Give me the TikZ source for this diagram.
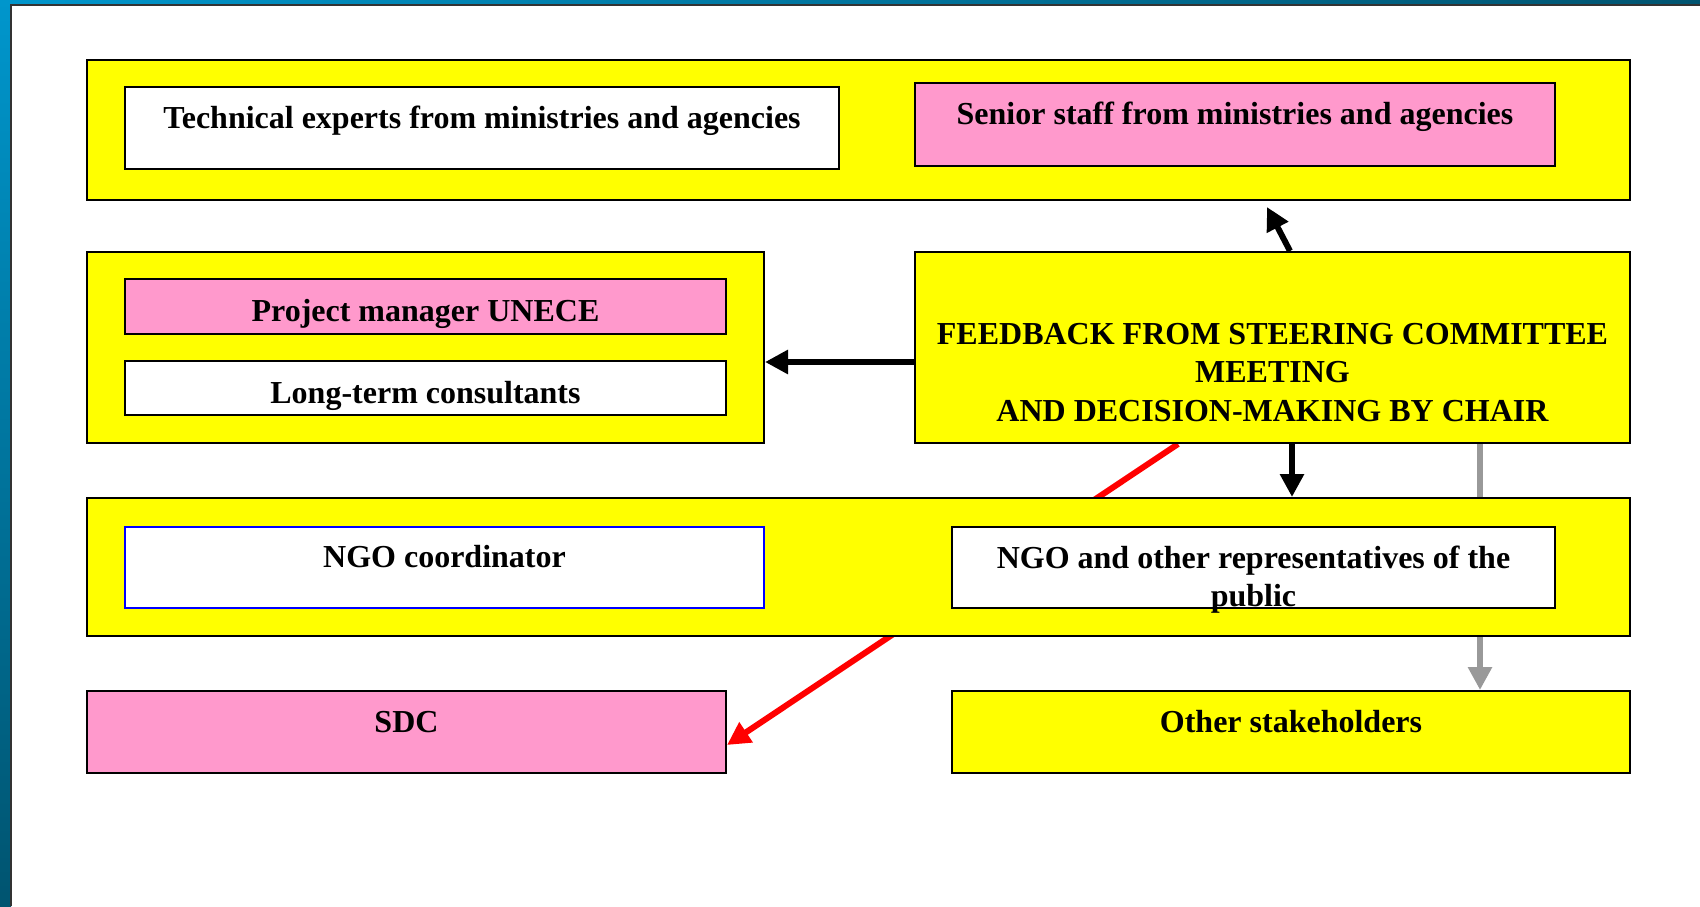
\documentclass[tikz,border=0pt]{standalone}
\usepackage{fontspec}
\setmainfont{Liberation Serif}
\usetikzlibrary{arrows.meta,backgrounds}
\definecolor{panelyellow}{RGB}{255,255,0}
\definecolor{boxpink}{RGB}{255,153,204}
\definecolor{framelight}{RGB}{0,150,204}
\definecolor{framedark}{RGB}{0,84,112}
\definecolor{greyarrow}{RGB}{153,153,153}

\begin{document}
\begin{tikzpicture}[x=1pt,y=-1pt,
        every node/.style={font=\bfseries\fontsize{32}{38.5}\selectfont, inner sep=0pt},
        panel/.style={draw, line width=2pt, fill=panelyellow},
        whitebox/.style={draw, line width=2pt, fill=white},
        pinkbox/.style={draw, line width=2pt, fill=boxpink},
        mid/.style={text height=24pt, text depth=24pt},
        low/.style={text height=38pt, text depth=8pt},
        fat/.style={line width=6pt, -{Triangle[length=23pt,width=23pt]}}]
            \useasboundingbox (0,0) rectangle (1700,906);
            \begin{scope}[on background layer]
                \shade[top color=framelight, bottom color=framedark] (0,0) rectangle (11,906);
                \shade[left color=framelight, right color=framedark] (0,0) rectangle (1700,5);
                \fill[white] (11,5) rectangle (1700,906);
                \draw[line width=1.5pt, black!80] (11,906)--(11,5)--(1700,5);
            \end{scope}
            \node[panel, minimum width=1543pt, minimum height=140pt] (toprow) at (858.5,130) {};
            \node[whitebox, mid, minimum width=714pt, minimum height=82pt] (tech) at (482,128) {Technical experts from ministries and agencies};
            \node[pinkbox, mid, minimum width=640pt, minimum height=83pt] (senior) at (1235,124.5) {Senior staff from ministries and agencies};
            \node[panel, minimum width=677pt, minimum height=191pt] (team) at (425.5,347.5) {};
            \node[pinkbox, low, minimum width=601pt, minimum height=55pt] (manager) at (425.5,306.5) {Project manager UNECE};
            \node[whitebox, low, minimum width=601pt, minimum height=54pt] (consult) at (425.5,388) {Long-term consultants};
            \node[panel, align=center, text height=149pt, text depth=2pt, minimum width=715pt, minimum height=191pt] (feedback) at (1272.5,347.5) {FEEDBACK FROM STEERING COMMITTEE\\MEETING\\AND DECISION-MAKING BY CHAIR};
            \node[panel, minimum width=1543pt, minimum height=138pt] (ngorow) at (858.5,567) {};
            \node[whitebox, mid, draw=blue, line width=1.5pt, minimum width=639pt, minimum height=81pt] (ngocoord) at (444.5,567.5) {NGO coordinator};
            \node[whitebox, align=center, text height=79pt, text depth=1pt, minimum width=603pt, minimum height=81pt] (public) at (1253.5,567.5) {NGO and other representatives of the\\public};
            \node[pinkbox, mid, minimum width=639pt, minimum height=82pt] (sdc) at (406.5,732) {SDC};
            \node[panel, mid, minimum width=678pt, minimum height=82pt] (others) at (1291,732) {Other stakeholders};
            \coordinate (uptip) at (1267,207);
            \draw[fat] ([xshift=17.5pt]feedback.north)--(uptip);
            \draw[fat] ([yshift=-14.5pt]feedback.west)--([yshift=-14.5pt]team.east);
            \draw[fat] ([xshift=19.5pt]feedback.south)--([xshift=19.5pt]feedback.south |- ngorow.north);
            \begin{scope}[on background layer]
                \draw[fat, red] ([xshift=-94.5pt]feedback.south)--([yshift=-13pt]sdc.east);
                \draw[fat, greyarrow] ([xshift=207.5pt]feedback.south)--([xshift=207.5pt]feedback.south |- others.north);
            \end{scope}
\end{tikzpicture}
\end{document}
